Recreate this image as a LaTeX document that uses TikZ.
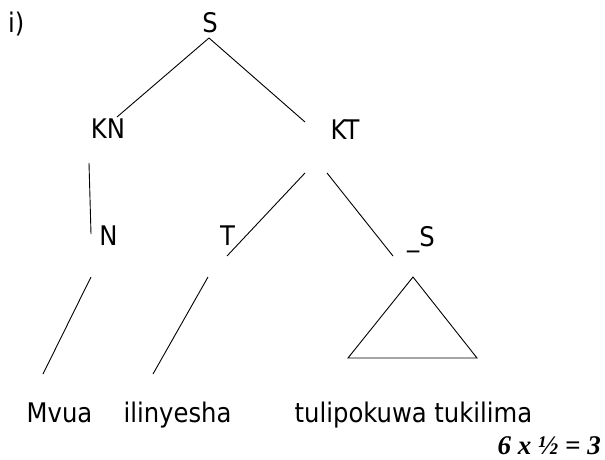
\documentclass[tikz,border=0pt]{standalone}
\usepackage{fontspec}
\setmainfont{DejaVu Sans Condensed}
\newfontfamily\markfont{Liberation Serif}
\usetikzlibrary{positioning}
\tikzset{
  label/.style = {inner sep=0pt, anchor=base, font=\fontsize{27}{31}\selectfont},
  branch/.style = {draw, line width=0.9pt},
  marks/.style  = {inner sep=0pt, anchor=base east,
                   font=\markfont\bfseries\itshape\fontsize{27}{30}\selectfont}
}

\begin{document}
\begin{tikzpicture}[x=1pt, y=-1pt]

\useasboundingbox (0,0) rectangle (605,460);

% labels of the tree
\node[label, anchor=base west] at (8,33) (part) {i)};
\node[label] at (210,33) (S) {S};
\node[label] at (108,138) (KN) {KN};
\node[label] at (345,139) (KT) {KT};
\node[label] at (108.5,245) (N) {N};
\node[label] at (227.5,245) (T) {T};
\node[label] at (421,246) (Ss) {\_S};

% words
\node[label] at (59.5,422) (Mvua) {Mvua};
\node[label] at (177.5,422) (ilinyesha) {ilinyesha};
\node[label] at (413.5,422) (tuli) {tulipokuwa tukilima};

\node[marks] at (601,454) (score) {6 x ½ = 3};

% branches
\draw[branch] ([shift={(-1,5)}]S.base) -- ([shift={(9,-21)}]KN.base);
\draw[branch] ([shift={(-1,5)}]S.base) -- ([shift={(-40,-17)}]KT.base);
\draw[branch] ([shift={(-19,25)}]KN.base) -- ([shift={(-17.5,-11)}]N.base);
\draw[branch] ([shift={(-40,34)}]KT.base) -- ([shift={(-0.5,11)}]T.base);
\draw[branch] ([shift={(-18,34)}]KT.base) -- ([shift={(-28,10)}]Ss.base);
\draw[branch] ([shift={(-17.5,32)}]N.base) -- ([shift={(-16.5,-48)}]Mvua.base);
\draw[branch] ([shift={(-19.5,32)}]T.base) -- ([shift={(-24.5,-48)}]ilinyesha.base);

% triangle over the clause
\draw[branch] ([shift={(-8,31)}]Ss.base) -- ([shift={(-65.5,-64)}]tuli.base)
  -- ([shift={(63.5,-64)}]tuli.base) -- cycle;

\end{tikzpicture}
\end{document}
